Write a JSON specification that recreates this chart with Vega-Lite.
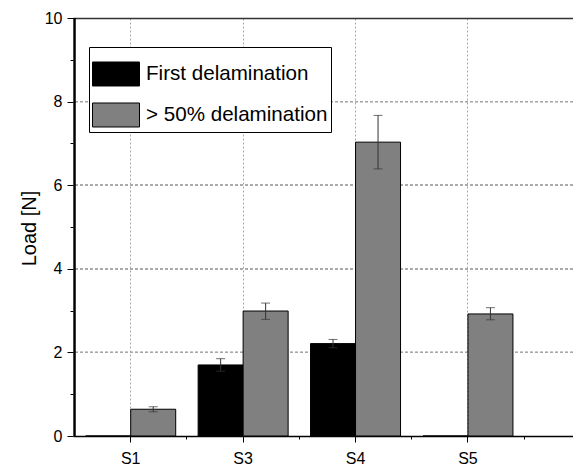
{
  "$schema": "https://vega.github.io/schema/vega-lite/v6.json",
  "width": 500,
  "height": 418,
  "autosize": {"type": "none"},
  "padding": {"left": 73, "top": 18, "right": 0, "bottom": 32},
  "background": "white",
  "config": {
    "view": {"stroke": null},
    "font": "Liberation Sans",
    "axis": {
      "domainColor": "black",
      "domainWidth": 1.3,
      "tickColor": "black",
      "labelColor": "black",
      "titleColor": "black",
      "labelFont": "Liberation Sans",
      "titleFont": "Liberation Sans",
      "titleFontWeight": "normal"
    }
  },
  "data": {
    "values": [
      {"sample": "S1", "series": "First delamination", "load": 0},
      {"sample": "S1", "series": "> 50% delamination", "load": 0.64, "lo": 0.58, "hi": 0.70},
      {"sample": "S3", "series": "First delamination", "load": 1.70, "lo": 1.55, "hi": 1.85},
      {"sample": "S3", "series": "> 50% delamination", "load": 2.99, "lo": 2.79, "hi": 3.18},
      {"sample": "S4", "series": "First delamination", "load": 2.21, "lo": 2.11, "hi": 2.31},
      {"sample": "S4", "series": "> 50% delamination", "load": 7.03, "lo": 6.39, "hi": 7.67},
      {"sample": "S5", "series": "First delamination", "load": 0},
      {"sample": "S5", "series": "> 50% delamination", "load": 2.92, "lo": 2.78, "hi": 3.07}
    ]
  },
  "layer": [
    {"mark": {"type": "rule", "color": "#a8a8a8", "strokeDash": [3, 2], "strokeWidth": 1}, "encoding": {"y": {"datum": 2, "type": "quantitative", "axis": null}}},
    {"mark": {"type": "rule", "color": "#a8a8a8", "strokeDash": [3, 2], "strokeWidth": 1}, "encoding": {"y": {"datum": 4, "type": "quantitative", "axis": null}}},
    {"mark": {"type": "rule", "color": "#a8a8a8", "strokeDash": [3, 2], "strokeWidth": 1}, "encoding": {"y": {"datum": 6, "type": "quantitative", "axis": null}}},
    {"mark": {"type": "rule", "color": "#a8a8a8", "strokeDash": [3, 2], "strokeWidth": 1}, "encoding": {"y": {"datum": 8, "type": "quantitative", "axis": null}}},
    {
      "mark": {"type": "bar", "stroke": "black", "strokeWidth": 1},
      "encoding": {
        "x": {
          "field": "sample",
          "type": "nominal",
          "scale": {"domain": ["S1", "S3", "S4", "S5"], "paddingInner": 0, "paddingOuter": 0.224, "align": 0.03},
          "axis": {
            "title": null,
            "orient": "bottom",
            "labelAngle": 0,
            "labelFontSize": 16,
            "labelPadding": 8,
            "tickSize": 6,
            "grid": true,
            "gridColor": "#a8a8a8",
            "gridDash": [2, 2],
            "gridWidth": 1
          }
        },
        "xOffset": {
          "field": "series",
          "type": "nominal",
          "scale": {"domain": ["First delamination", "> 50% delamination"], "paddingInner": 0, "paddingOuter": 0.249}
        },
        "y": {
          "field": "load",
          "type": "quantitative",
          "scale": {"domain": [0, 10], "nice": false, "zero": true},
          "axis": {
            "title": "Load [N]",
            "orient": "left",
            "domain": false,
            "titleFontSize": 20,
            "titleAngle": -90,
            "titleX": -38,
            "titleY": 210,
            "titleAlign": "center",
            "titleBaseline": "alphabetic",
            "values": [0, 2, 4, 6, 8, 10],
            "labelFontSize": 16,
            "labelPadding": 5,
            "tickSize": 6,
            "grid": false
          }
        },
        "color": {
          "field": "series",
          "type": "nominal",
          "scale": {"domain": ["First delamination", "> 50% delamination"], "range": ["#000000", "#808080"]},
          "legend": {
            "title": null,
            "orient": "none",
            "legendX": 16,
            "legendY": 29,
            "symbolType": "M-1,-0.51H1V0.51H-1Z",
            "symbolSize": 2209,
            "symbolStrokeColor": "black",
            "symbolStrokeWidth": 1,
            "symbolOpacity": 1,
            "labelFontSize": 20.6,
            "labelFont": "Liberation Sans",
            "labelColor": "black",
            "labelOffset": 6,
            "labelLimit": 400,
            "rowPadding": 3,
            "padding": 3,
            "strokeColor": "black",
            "fillColor": "white"
          }
        }
      }
    },
    {
      "transform": [{"filter": "datum.hi != null"}],
      "mark": {"type": "rule", "color": "#333333", "strokeWidth": 1},
      "encoding": {
        "x": {
          "field": "sample",
          "type": "nominal",
          "axis": {"title": null, "orient": "bottom", "labels": false, "domain": false, "grid": false, "tickSize": 3, "bandPosition": 1}
        },
        "xOffset": {"field": "series", "type": "nominal"},
        "y": {
          "field": "lo",
          "type": "quantitative",
          "axis": {"title": null, "orient": "left", "values": [1, 3, 5, 7, 9], "labels": false, "domain": false, "grid": false, "tickSize": 3}
        },
        "y2": {"field": "hi"}
      }
    },
    {
      "transform": [{"filter": "datum.hi != null"}],
      "mark": {"type": "tick", "color": "#333333", "thickness": 1, "size": 9, "orient": "horizontal"},
      "encoding": {
        "x": {
          "field": "sample",
          "type": "nominal",
          "axis": {"title": null, "orient": "top", "labels": false, "ticks": false, "grid": false, "domain": true, "domainColor": "#333333", "domainWidth": 1.5}
        },
        "xOffset": {"field": "series", "type": "nominal"},
        "y": {"field": "hi", "type": "quantitative", "axis": null}
      }
    },
    {
      "transform": [{"filter": "datum.hi != null"}],
      "mark": {"type": "tick", "color": "#333333", "thickness": 1, "size": 9, "orient": "horizontal"},
      "encoding": {
        "x": {"field": "sample", "type": "nominal", "axis": null},
        "xOffset": {"field": "series", "type": "nominal"},
        "y": {"field": "lo", "type": "quantitative", "axis": null}
      }
    },
    {
      "mark": {"type": "rule", "color": "black", "strokeWidth": 1.3},
      "encoding": {
        "x": {"datum": "S1", "type": "nominal", "bandPosition": 0, "axis": null},
        "y": {"datum": 0, "type": "quantitative", "axis": null},
        "y2": {"datum": 10}
      }
    }
  ],
  "resolve": {"axis": {"x": "independent", "y": "independent"}}
}
